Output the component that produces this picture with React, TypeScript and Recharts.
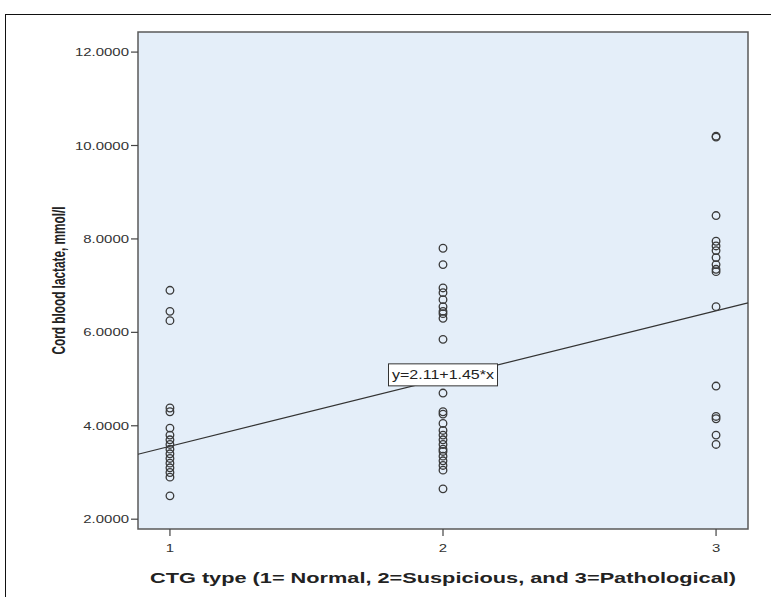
import React from "react";
import {
  ScatterChart,
  Scatter,
  XAxis,
  YAxis,
  CartesianGrid,
  ReferenceArea,
  ReferenceLine,
  ReferenceDot,
} from "recharts";

// CTG type categories
const ctgTypes = [1, 2, 3];

// Cord blood lactate values (mmol/l) per CTG type
const normalValues = [6.9, 6.45, 6.25, 4.38, 4.3, 3.95, 3.8, 3.7, 3.6, 3.5, 3.4, 3.3, 3.2, 3.1, 3.0, 2.9, 2.5];
const suspiciousValues = [7.8, 7.45, 6.95, 6.85, 6.7, 6.55, 6.45, 6.4, 6.3, 5.85, 4.7, 4.3, 4.25, 4.05, 3.9, 3.8, 3.7, 3.6, 3.5, 3.45, 3.35, 3.25, 3.15, 3.05, 2.65];
const pathologicalValues = [10.2, 10.18, 8.5, 7.95, 7.85, 7.75, 7.6, 7.45, 7.35, 7.3, 6.55, 4.85, 4.2, 4.15, 3.8, 3.6];

// Axis ticks
const yTicks = [2, 4, 6, 8, 10, 12];
const xTicks = [1, 2, 3];

// Axis domains
const xDomain = [0.883, 3.117];
const yDomain = [1.79, 12.43];

// Titles
const xTitle = "CTG type (1= Normal, 2=Suspicious, and 3=Pathological)";
const yTitle = "Cord blood lactate, mmol/l";

// Fit line y = 2.11 + 1.45*x, endpoints at domain edges
const fitLabel = "y=2.11+1.45*x";
const fitLineEnds = [
  { x: 0.883, y: 3.39 },
  { x: 3.117, y: 6.63 },
];
const fitLabelPos = { x: 2, y: 5.09 };

const groups = [normalValues, suspiciousValues, pathologicalValues];
const points = groups.flatMap((vals, i) => vals.map((v) => ({ x: ctgTypes[i], y: v })));

const FONT = "'Liberation Sans', Arial, sans-serif";
const STRETCH = 1.3;

const Ring = (props: any) => {
  const { cx, cy } = props;
  if (cx == null || cy == null) return null;
  return <circle cx={cx} cy={cy} r={3.8} fill="none" stroke="#3a3a3a" strokeWidth={1.3} />;
};

const YTick = (props: any) => {
  const { x, y, payload } = props;
  return (
    <g transform={`translate(${x},${y}) scale(${STRETCH},1)`}>
      <text x={0} y={0} dy={4} textAnchor="end" fontFamily={FONT} fontSize={11.5} fill="#333">
        {Number(payload.value).toFixed(4)}
      </text>
    </g>
  );
};

const XTick = (props: any) => {
  const { x, y, payload } = props;
  return (
    <g transform={`translate(${x},${y}) scale(${STRETCH},1)`}>
      <text x={0} y={0} dy={14} textAnchor="middle" fontFamily={FONT} fontSize={11.5} fill="#333">
        {payload.value}
      </text>
    </g>
  );
};

const XTitle = (props: any) => {
  const { viewBox } = props;
  if (!viewBox) return null;
  const cx = viewBox.x + viewBox.width / 2;
  return (
    <text
      x={cx}
      y={583}
      textAnchor="middle"
      fontFamily={FONT}
      fontSize={15}
      fontWeight="bold"
      fill="#222"
      textLength={586}
      lengthAdjust="spacingAndGlyphs"
    >
      {xTitle}
    </text>
  );
};

const YTitle = (props: any) => {
  const { viewBox } = props;
  if (!viewBox) return null;
  const cy = viewBox.y + viewBox.height / 2;
  const x = 65;
  return (
    <g transform={`translate(${x},${cy}) rotate(-90)`}>
      <text
        x={0}
        y={0}
        textAnchor="middle"
        fontFamily={FONT}
        fontSize={19}
        fontWeight="bold"
        fill="#222"
        textLength={148}
        lengthAdjust="spacingAndGlyphs"
      >
        {yTitle}
      </text>
    </g>
  );
};

const FitLabel = (props: any) => {
  const { viewBox } = props;
  if (!viewBox) return null;
  const cx = viewBox.x + (viewBox.width || 0) / 2;
  const cy = viewBox.y + (viewBox.height || 0) / 2;
  const w = 109;
  const h = 22;
  return (
    <g>
      <rect x={cx - w / 2} y={cy - h / 2} width={w} height={h} fill="#ffffff" stroke="#333" strokeWidth={1} />
      <text
        x={cx}
        y={cy + 4.5}
        textAnchor="middle"
        fontFamily={FONT}
        fontSize={13}
        fill="#222"
        textLength={102}
        lengthAdjust="spacingAndGlyphs"
      >
        {fitLabel}
      </text>
    </g>
  );
};

export default function App() {
  return (
    <div style={{ position: "absolute", left: 0, top: 0, width: 771, height: 597, background: "#fff", overflow: "hidden" }}>
      <div
        style={{
          position: "absolute",
          left: 5,
          top: 14,
          width: 800,
          height: 620,
          borderTop: "1.5px solid #111",
          borderLeft: "1.5px solid #111",
        }}
      />
      <div style={{ position: "absolute", left: 0, top: 0 }}>
        <ScatterChart width={771} height={597} margin={{ top: 32, right: 23, bottom: 0, left: 0 }}>
          <CartesianGrid horizontal={false} vertical={false} fill="#e4eef9" />
          <ReferenceArea
            x1={xDomain[0]}
            x2={xDomain[1]}
            y1={yDomain[0]}
            y2={yDomain[1]}
            fill="none"
            stroke="#5a5a5a"
            strokeWidth={1.5}
          />
          <XAxis
            type="number"
            dataKey="x"
            domain={xDomain}
            ticks={xTicks}
            allowDataOverflow
            height={68}
            axisLine={false}
            tickLine={{ stroke: "#444", strokeWidth: 1.2 }}
            tickSize={7}
            tick={<XTick />}
            label={<XTitle />}
          />
          <YAxis
            type="number"
            dataKey="y"
            domain={yDomain}
            ticks={yTicks}
            allowDataOverflow
            width={138}
            axisLine={false}
            tickLine={{ stroke: "#444", strokeWidth: 1.2 }}
            tickSize={7}
            tick={<YTick />}
            label={<YTitle />}
          />
          <ReferenceLine segment={fitLineEnds} stroke="#333" strokeWidth={1.2} ifOverflow="visible" />
          <Scatter data={points} shape={<Ring />} isAnimationActive={false} />
          <ReferenceDot
            x={fitLabelPos.x}
            y={fitLabelPos.y}
            r={0}
            fill="none"
            stroke="none"
            label={<FitLabel />}
          />
        </ScatterChart>
      </div>
    </div>
  );
}
